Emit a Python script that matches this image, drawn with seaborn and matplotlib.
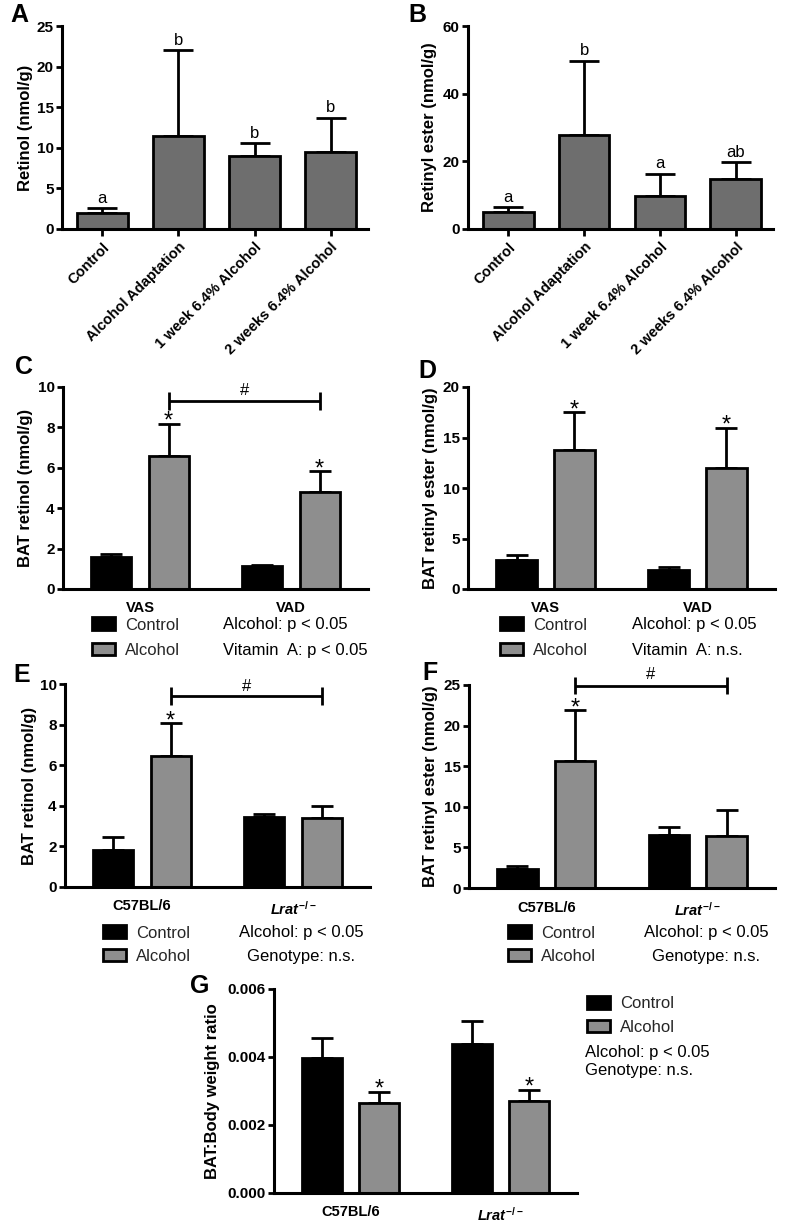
import numpy as np
import pandas as pd
import matplotlib
matplotlib.use("Agg")
import matplotlib.pyplot as plt
import seaborn as sns
from matplotlib.patches import Patch

sns.set_theme(style="ticks")
plt.rcParams['font.family'] = ['Liberation Sans', 'DejaVu Sans']
plt.rcParams['mathtext.fontset'] = 'custom'
plt.rcParams['mathtext.rm'] = 'Liberation Sans:bold'
plt.rcParams['mathtext.it'] = 'Liberation Sans:italic:bold'
plt.rcParams['mathtext.bf'] = 'Liberation Sans:bold'

# ---------------- data ----------------
time_groups = ["Control", "Alcohol Adaptation", "1 week 6.4% Alcohol", "2 weeks 6.4% Alcohol"]
a_retinol = [1.95, 11.4, 8.95, 9.5]
a_retinol_err = [2.55, 22.0, 10.55, 13.65]
a_letters = ["a", "b", "b", "b"]
b_ester = [4.9, 27.7, 9.7, 14.8]
b_ester_err = [6.4, 49.6, 16.2, 19.7]
b_letters = ["a", "b", "a", "ab"]

treatments = ["Control", "Alcohol"]
diet_groups = ["VAS", "VAD"]
geno_groups = ["C57BL/6", r"$Lrat^{-/-}$"]

c_control = [1.6, 1.15]
c_control_err = [1.72, 1.2]
c_alcohol = [6.6, 4.78]
c_alcohol_err = [8.17, 5.82]

d_control = [2.88, 1.9]
d_control_err = [3.35, 2.2]
d_alcohol = [13.78, 12.0]
d_alcohol_err = [17.5, 15.95]

e_control = [1.8, 3.45]
e_control_err = [2.47, 3.6]
e_alcohol = [6.45, 3.38]
e_alcohol_err = [8.07, 4.0]

f_control = [2.33, 6.55]
f_control_err = [2.75, 7.55]
f_alcohol = [15.6, 6.4]
f_alcohol_err = [21.9, 9.6]

g_control = [0.00396, 0.00439]
g_control_err = [0.00455, 0.00506]
g_alcohol = [0.00266, 0.00272]
g_alcohol_err = [0.00298, 0.00304]

# ---------------- style ----------------
W, H = 787, 1223
fig = plt.figure(figsize=(W / 100, H / 100), dpi=100)
GRAY_DARK = "#6e6e6e"
GRAY_LIGHT = "#8e8e8e"
LW = 2.0


def px_ax(l, t, r, b):
    return fig.add_axes([l / W, 1 - b / H, (r - l) / W, (b - t) / H])


def fx(x):
    return x / W


def fy(y):
    return 1 - y / H


def style_axes(ax, ylim, yticks, ylabel, label_right_px, ax_left_px, ax_w_px, fmt="{:g}"):
    sns.despine(ax=ax)
    ax.set_ylim(*ylim)
    ax.set_yticks(yticks, labels=[fmt.format(v) for v in yticks], fontweight='bold', fontsize=11)
    for s in ("left", "bottom"):
        ax.spines[s].set_linewidth(2.2)
        ax.spines[s].set_color("black")
    ax.tick_params(axis='y', direction='out', length=4, width=2, pad=2, colors='black')
    ax.set_ylabel(ylabel, fontsize=12, fontweight='bold', color='black')
    ax.set_xlabel("")
    ax.yaxis.set_label_coords((label_right_px - ax_left_px) / ax_w_px, 0.5)
    ax.set_facecolor("white")


def add_errorbars(ax, means, tops, capsize):
    bars = sorted(ax.patches, key=lambda p: p.get_x())
    xs = [p.get_x() + p.get_width() / 2 for p in bars]
    means = np.asarray(means)
    tops = np.asarray(tops)
    ax.errorbar(xs, means, yerr=[np.zeros_like(means), tops - means], fmt='none',
                ecolor='black', elinewidth=LW, capsize=capsize, capthick=LW, zorder=0.5)
    return xs


def simple_panel(l, t, r, b, values, errs, letters, ylim, yticks, ylabel, label_right):
    ax = px_ax(l, t, r, b)
    df = pd.DataFrame({"group": time_groups, "value": values})
    sns.barplot(data=df, x="group", y="value", color=GRAY_DARK, saturation=1, width=0.67,
                edgecolor='black', linewidth=LW, errorbar=None, ax=ax)
    xs = add_errorbars(ax, values, errs, 11)
    for x, top, let in zip(xs, errs, letters):
        ax.annotate(let, (x, top), xytext=(0, 2), textcoords='offset points',
                    ha='center', va='bottom', fontsize=12, color='black')
    ax.set_xlim(-0.53, 3.49)
    style_axes(ax, ylim, yticks, ylabel, label_right, l, r - l)
    ax.set_xticks(range(len(time_groups)), labels=time_groups, rotation=45, ha='right',
                  rotation_mode='anchor', fontweight='bold', fontsize=10.5)
    ax.tick_params(axis='x', direction='out', length=5, width=2, pad=3, colors='black')
    return ax


def group_panel(l, t, r, b, groups, ctrl, ctrl_err, alc, alc_err, ylim, yticks, ylabel,
                label_right, stars, fmt="{:g}"):
    ax = px_ax(l, t, r, b)
    df = pd.DataFrame({
        "group": list(groups) * 2,
        "treatment": ["Control"] * len(groups) + ["Alcohol"] * len(groups),
        "value": list(ctrl) + list(alc),
    })
    sns.barplot(data=df, x="group", y="value", hue="treatment", hue_order=treatments,
                palette=["black", GRAY_LIGHT], saturation=1, width=0.76, gap=0.3,
                edgecolor='black', linewidth=LW, errorbar=None, legend=False, ax=ax)
    means, tops = [], []
    for i in range(len(groups)):
        means += [ctrl[i], alc[i]]
        tops += [ctrl_err[i], alc_err[i]]
    xs = add_errorbars(ax, means, tops, 8)
    for x, top, s in zip(xs, tops, stars):
        if s:
            ax.annotate("*", (x, top), xytext=(0, 1.5), textcoords='offset points',
                        ha='center', va='center', fontsize=17, color='black')
    ax.set_xlim(-0.51, 1.51)
    style_axes(ax, ylim, yticks, ylabel, label_right, l, r - l, fmt)
    ax.set_xticks(range(len(groups)), labels=groups, fontweight='bold', fontsize=10.5)
    ax.tick_params(axis='x', length=0, pad=9, colors='black')
    return ax, xs


def bracket(ax, x1, x2, yh, ylo, yhi, ytext):
    kw = dict(color='black', lw=LW, clip_on=False, solid_capstyle='butt')
    ax.plot([x1, x2], [yh, yh], **kw)
    ax.plot([x1, x1], [ylo, yhi], **kw)
    ax.plot([x2, x2], [ylo, yhi], **kw)
    ax.text((x1 + x2) / 2, ytext, "#", ha='center', va='center', fontsize=12, color='black')


def legend_at(ax, x_px, y_px, spacing):
    handles = [Patch(facecolor='black', edgecolor='black', linewidth=LW),
               Patch(facecolor=GRAY_LIGHT, edgecolor='black', linewidth=LW)]
    ax.legend(handles, treatments, loc='center left', bbox_to_anchor=(fx(x_px), fy(y_px)),
              bbox_transform=fig.transFigure, frameon=False, fontsize=12,
              handlelength=1.4, handleheight=0.8, handletextpad=0.6, labelspacing=spacing,
              borderpad=0, borderaxespad=0)


def stats(lines, x_px, ys, ha):
    for txt, y in zip(lines, ys):
        fig.text(fx(x_px), fy(y), txt, ha=ha, va='center', fontsize=12, color='black')


# ---------------- Panel A ----------------
simple_panel(62, 26, 368, 229, a_retinol, a_retinol_err, a_letters, (0, 25),
             [0, 5, 10, 15, 20, 25], "Retinol (nmol/g)", 33)
# ---------------- Panel B ----------------
simple_panel(468, 26, 773, 229, b_ester, b_ester_err, b_letters, (0, 60),
             [0, 20, 40, 60], "Retinyl ester (nmol/g)", 437)

# ---------------- Panel C ----------------
axC, xsC = group_panel(63, 387, 368, 589, diet_groups, c_control, c_control_err, c_alcohol,
                       c_alcohol_err, (0, 10), [0, 2, 4, 6, 8, 10], "BAT retinol (nmol/g)", 33,
                       [False, True, False, True])
bracket(axC, xsC[1], xsC[3], 9.3, 8.85, 9.75, 9.85)
legend_at(axC, 92, 637.5, 0.6)
stats(["Alcohol: p < 0.05", "Vitamin  A: p < 0.05"], 223, [625, 650], 'left')

# ---------------- Panel D ----------------
axD, xsD = group_panel(468, 387, 775, 589, diet_groups, d_control, d_control_err, d_alcohol,
                       d_alcohol_err, (0, 20), [0, 5, 10, 15, 20], "BAT retinyl ester (nmol/g)", 438,
                       [False, True, False, True])
legend_at(axD, 500, 637.5, 0.6)
stats(["Alcohol: p < 0.05", "Vitamin  A: n.s."], 632, [625, 650], 'left')

# ---------------- Panel E ----------------
axE, xsE = group_panel(65, 684, 370, 887, geno_groups, e_control, e_control_err, e_alcohol,
                       e_alcohol_err, (0, 10), [0, 2, 4, 6, 8, 10], "BAT retinol (nmol/g)", 37,
                       [False, True, False, False])
bracket(axE, xsE[1], xsE[3], 9.4, 8.95, 9.85, 9.9)
legend_at(axE, 103, 944.5, 0.48)
stats(["Alcohol: p < 0.05", "Genotype: n.s."], 301, [933, 956], 'center')

# ---------------- Panel F ----------------
axF, xsF = group_panel(469, 685, 775, 888, geno_groups, f_control, f_control_err, f_alcohol,
                       f_alcohol_err, (0, 25), [0, 5, 10, 15, 20, 25], "BAT retinyl ester (nmol/g)",
                       438, [False, True, False, False])
bracket(axF, xsF[1], xsF[3], 24.9, 23.9, 26.0, 26.3)
legend_at(axF, 508, 944.5, 0.48)
stats(["Alcohol: p < 0.05", "Genotype: n.s."], 706, [933, 956], 'center')

# ---------------- Panel G ----------------
axG, xsG = group_panel(274, 989, 577, 1193, geno_groups, g_control, g_control_err, g_alcohol,
                       g_alcohol_err, (0, 0.006), [0, 0.002, 0.004, 0.006], "BAT:Body weight ratio",
                       220, [False, True, False, True], fmt="{:.3f}")
legend_at(axG, 587, 1015.5, 0.48)
stats(["Alcohol: p < 0.05", "Genotype: n.s."], 585, [1052, 1071], 'left')

# ---------------- panel letters ----------------
for let, x, y in [("A", 10, 15), ("B", 408, 15), ("C", 15, 367), ("D", 418, 371),
                  ("E", 13, 675), ("F", 422, 673), ("G", 190, 986)]:
    fig.text(fx(x), fy(y), let, ha='left', va='center', fontsize=18, fontweight='bold', color='black')

fig.savefig("out.png", dpi=100, facecolor='white')
